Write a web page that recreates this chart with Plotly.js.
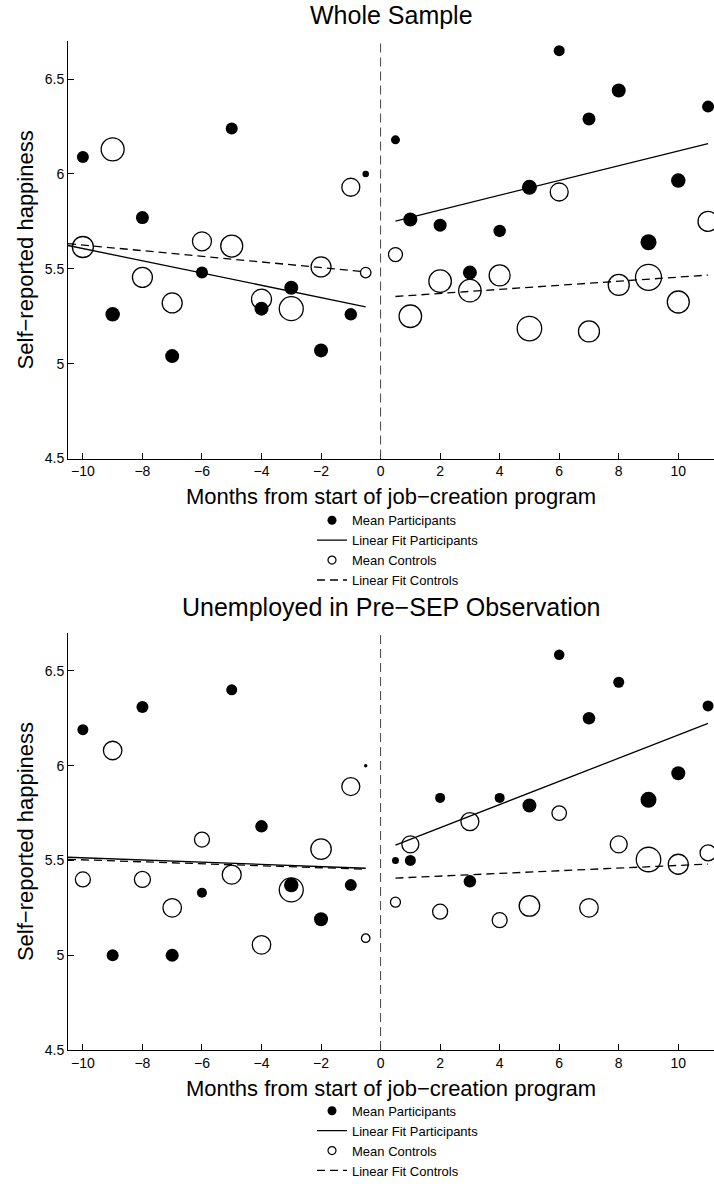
<!DOCTYPE html>
<html>
<head>
<meta charset="utf-8">
<script src="https://cdn.plot.ly/plotly-3.0.1.min.js"></script>
<style>
  html, body { margin: 0; padding: 0; background: #fff; }
  #chart { width: 714px; height: 1186px; }
</style>
</head>
<body>
<div id="chart"></div>
<script>
// ---------- Data ----------
const monthsPre  = [-10, -9, -8, -7, -6, -5, -4, -3, -2, -1, -0.5];
const monthsPost = [0.5, 1, 2, 3, 4, 5, 6, 7, 8, 9, 10, 11];
const fitPreX  = [-10.5, -0.5];
const fitPostX = [0.5, 11];

// Whole sample
const wholePartPre   = [6.09, 5.26, 5.77, 5.04, 5.48, 6.24, 5.29, 5.40, 5.07, 5.26, 6.00];
const wholePartPreW  = [12, 14.5, 13, 14, 12, 12, 14, 14, 14, 12.5, 6.5];
const wholeCtrlPre   = [5.615, 6.13, 5.455, 5.32, 5.645, 5.62, 5.34, 5.29, 5.51, 5.93, 5.48];
const wholeCtrlPreW  = [21, 23, 20, 20, 19, 22, 20, 24, 20, 18, 10.5];
const wholePartPost  = [6.18, 5.76, 5.73, 5.48, 5.70, 5.93, 6.65, 6.29, 6.44, 5.64, 5.965, 6.355];
const wholePartPostW = [9, 14, 13, 14, 12.5, 15, 11, 13, 14, 16, 14.5, 12];
const wholeCtrlPost  = [5.575, 5.25, 5.435, 5.385, 5.465, 5.185, 5.905, 5.17, 5.415, 5.455, 5.325, 5.75];
const wholeCtrlPostW = [14, 22.5, 22.5, 22.5, 21, 24.5, 18, 21, 21, 26, 22, 20];
const wholeFitPartPre  = [5.623, 5.30];
const wholeFitCtrlPre  = [5.633, 5.484];
const wholeFitPartPost = [5.752, 6.160];
const wholeFitCtrlPost = [5.354, 5.467];

// Unemployed in pre-SEP observation
const unempPartPre   = [6.19, 5.00, 6.31, 5.00, 5.33, 6.40, 5.68, 5.37, 5.19, 5.37, 6.00];
const unempPartPreW  = [11, 12, 12, 13, 10, 11, 12.5, 14.5, 14, 12, 3.5];
const unempCtrlPre   = [5.40, 6.08, 5.40, 5.25, 5.61, 5.425, 5.055, 5.345, 5.56, 5.89, 5.09];
const unempCtrlPreW  = [15, 18.5, 16, 18.5, 15, 19, 18.5, 24, 20.5, 18, 8.5];
const unempPartPost  = [5.50, 5.50, 5.83, 5.39, 5.83, 5.79, 6.585, 6.25, 6.44, 5.82, 5.96, 6.315];
const unempPartPostW = [7, 11, 10, 12.5, 10, 14, 10.5, 12.5, 11, 16, 14, 11];
const unempCtrlPost  = [5.28, 5.585, 5.23, 5.705, 5.185, 5.26, 5.75, 5.25, 5.585, 5.505, 5.48, 5.54];
const unempCtrlPostW = [10, 17, 15, 18, 15, 20.5, 14.5, 18.5, 17, 24.5, 20, 16];
const unempFitPartPre  = [5.517, 5.459];
const unempFitCtrlPre  = [5.506, 5.454];
const unempFitPartPost = [5.581, 6.223];
const unempFitCtrlPost = [5.407, 5.481];

const programStart = 0;
const legendLabels = ['Mean Participants', 'Linear Fit Participants', 'Mean Controls', 'Linear Fit Controls'];
const panelTitles = ['Whole Sample', 'Unemployed in Pre\u2212SEP Observation'];
const xTitle = 'Months from start of job\u2212creation program';
const yTitle = 'Self\u2212reported happiness';

// ---------- Styles ----------
const FONT = 'Liberation Sans, Arial, Helvetica, sans-serif';
const DASH_FIT = '8px,5px';

function filled(x, y, w, xa, ya) {
  return {x: x, y: y, type: 'scatter', mode: 'markers', xaxis: xa, yaxis: ya, showlegend: false,
    marker: {symbol: 'circle', size: w, color: '#000', opacity: 1, line: {width: 0}}, hoverinfo: 'skip'};
}
function open(x, y, w, xa, ya) {
  return {x: x, y: y, type: 'scatter', mode: 'markers', xaxis: xa, yaxis: ya, showlegend: false,
    marker: {symbol: 'circle-open', size: w, color: '#000', opacity: 1, line: {width: 1.3, color: '#000'}}, hoverinfo: 'skip'};
}
function fit(x, y, dash, xa, ya) {
  return {x: x, y: y, type: 'scatter', mode: 'lines', xaxis: xa, yaxis: ya, showlegend: false,
    line: {color: '#000', width: 1.3, dash: dash}, hoverinfo: 'skip'};
}
function legendTraces(xa, ya, leg) {
  return [
    {x: [null], y: [null], type: 'scatter', mode: 'markers', name: legendLabels[0], xaxis: xa, yaxis: ya, legend: leg,
     marker: {symbol: 'circle', size: 9, color: '#000', opacity: 1}},
    {x: [null], y: [null], type: 'scatter', mode: 'lines', name: legendLabels[1], xaxis: xa, yaxis: ya, legend: leg,
     line: {color: '#000', width: 1.3}},
    {x: [null], y: [null], type: 'scatter', mode: 'markers', name: legendLabels[2], xaxis: xa, yaxis: ya, legend: leg,
     marker: {symbol: 'circle-open', size: 8, color: '#000', opacity: 1, line: {width: 1.2, color: '#000'}}},
    {x: [null], y: [null], type: 'scatter', mode: 'lines', name: legendLabels[3], xaxis: xa, yaxis: ya, legend: leg,
     line: {color: '#000', width: 1.3, dash: DASH_FIT}}
  ];
}

const data = [].concat(
  legendTraces('x', 'y', 'legend'),
  legendTraces('x2', 'y2', 'legend2'),
  [
    fit(fitPreX, wholeFitCtrlPre, DASH_FIT, 'x', 'y'),
    fit(fitPostX, wholeFitCtrlPost, DASH_FIT, 'x', 'y'),
    fit(fitPreX, wholeFitPartPre, 'solid', 'x', 'y'),
    fit(fitPostX, wholeFitPartPost, 'solid', 'x', 'y'),
    open(monthsPre, wholeCtrlPre, wholeCtrlPreW, 'x', 'y'),
    open(monthsPost, wholeCtrlPost, wholeCtrlPostW, 'x', 'y'),
    filled(monthsPre, wholePartPre, wholePartPreW, 'x', 'y'),
    filled(monthsPost, wholePartPost, wholePartPostW, 'x', 'y'),

    fit(fitPreX, unempFitCtrlPre, DASH_FIT, 'x2', 'y2'),
    fit(fitPostX, unempFitCtrlPost, DASH_FIT, 'x2', 'y2'),
    fit(fitPreX, unempFitPartPre, 'solid', 'x2', 'y2'),
    fit(fitPostX, unempFitPartPost, 'solid', 'x2', 'y2'),
    open(monthsPre, unempCtrlPre, unempCtrlPreW, 'x2', 'y2'),
    open(monthsPost, unempCtrlPost, unempCtrlPostW, 'x2', 'y2'),
    filled(monthsPre, unempPartPre, unempPartPreW, 'x2', 'y2'),
    filled(monthsPost, unempPartPost, unempPartPostW, 'x2', 'y2')
  ]
);

function xAxis(anchor) {
  return {
    anchor: anchor, domain: [0, 1], range: [-10.5, 11.2],
    tickmode: 'linear', tick0: 0, dtick: 2,
    ticks: 'inside', ticklen: 6, tickwidth: 1, tickcolor: '#000',
    showline: true, linecolor: '#000', linewidth: 1, mirror: false,
    showgrid: false, zeroline: false,
    tickfont: {family: FONT, size: 14, color: '#000'},
    automargin: true,
    title: {text: xTitle, font: {family: FONT, size: 22, color: '#000'}, standoff: 10}
  };
}
function yAxis(anchor, domain) {
  return {
    anchor: anchor, domain: domain, range: [4.5, 6.7],
    tickmode: 'array', tickvals: [4.5, 5, 5.5, 6, 6.5],
    ticks: 'inside', ticklen: 6, tickwidth: 1, tickcolor: '#000',
    showline: true, linecolor: '#000', linewidth: 1, mirror: false,
    showgrid: false, zeroline: false,
    tickfont: {family: FONT, size: 14, color: '#000'},
    automargin: true,
    title: {text: yTitle, font: {family: FONT, size: 22, color: '#000'}, standoff: 5}
  };
}

const legendCommon = {
  xref: 'paper', yref: 'paper', xanchor: 'left', yanchor: 'top',
  bgcolor: 'rgba(0,0,0,0)', borderwidth: 0,
  font: {family: FONT, size: 13, color: '#000'}, traceorder: 'normal'
};

const layout = {
  width: 714, height: 1186,
  margin: {l: 68, r: 0, t: 0, b: 0, pad: 0},
  paper_bgcolor: '#fff', plot_bgcolor: '#fff',
  font: {family: FONT, color: '#000'},
  xaxis: xAxis('y'),
  yaxis: yAxis('x', [0.6091, 0.9649]),
  xaxis2: xAxis('y2'),
  yaxis2: yAxis('x2', [0.1048, 0.4604]),
  legend: Object.assign({x: 0.3777, y: 0.5692}, legendCommon),
  legend2: Object.assign({x: 0.3777, y: 0.0658}, legendCommon),
  shapes: [
    {type: 'line', xref: 'x', yref: 'y domain', x0: programStart, x1: programStart, y0: 0, y1: 1,
     line: {color: '#444', width: 1, dash: '9px,5px'}},
    {type: 'line', xref: 'x2', yref: 'y2 domain', x0: programStart, x1: programStart, y0: 0, y1: 1,
     line: {color: '#444', width: 1, dash: '9px,5px'}}
  ],
  annotations: [
    {text: panelTitles[0], xref: 'paper', yref: 'paper', x: 0.5, y: 0.9874, xanchor: 'center', yanchor: 'middle',
     showarrow: false, font: {family: FONT, size: 25, color: '#000'}},
    {text: panelTitles[1], xref: 'paper', yref: 'paper', x: 0.5, y: 0.4823, xanchor: 'center', yanchor: 'middle',
     showarrow: false, font: {family: FONT, size: 25, color: '#000'}}
  ]
};

Plotly.newPlot('chart', data, layout, {displayModeBar: false, staticPlot: true});
</script>
</body>
</html>
